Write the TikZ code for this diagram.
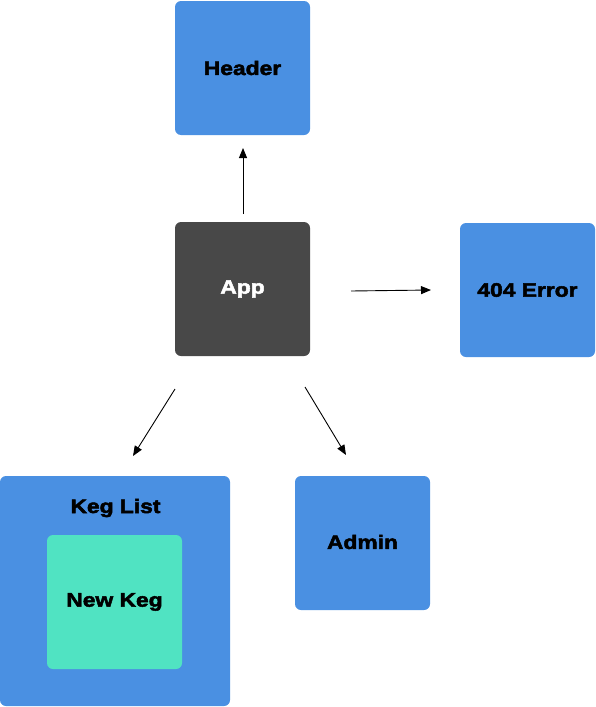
\documentclass[tikz,border=0pt]{standalone}
\usepackage{fontspec}
\setmainfont{Liberation Sans}[BoldFeatures={FakeStretch=1.17,FakeBold=2.5}]
\usetikzlibrary{arrows.meta}
\definecolor{cblue}{HTML}{4A90E2}
\definecolor{cdark}{HTML}{484848}
\definecolor{cgreen}{HTML}{50E3C2}
\begin{document}
\begin{tikzpicture}[x=1pt,y=-1pt,
  box/.style={fill=cblue,rounded corners=6pt,draw=none},
  lbl/.style={font=\fontsize{19.5}{22}\selectfont\bfseries,inner sep=0pt},
  arr/.style={line width=0.9pt,-{Triangle[length=10pt,width=8pt]}}]
\useasboundingbox (0,0) rectangle (595,707);
% boxes
\fill[box] (175,1) rectangle (310,135);
\fill[box,fill=cdark] (175,222) rectangle (310,356);
\fill[box] (460,223) rectangle (595,357);
\fill[box] (0,476) rectangle (230,706);
\fill[box,fill=cgreen] (47,535) rectangle (182,669);
\fill[box] (295,476) rectangle (430,610);
% labels
\node[lbl] (header) at (242.5,68) {Header};
\node[lbl,text=white] (app) at (242.5,289) {App};
\node[lbl] (err) at (527.5,290) {404 Error};
\node[lbl] (keglist) at (115.5,508) {Keg List};
\node[lbl] (newkeg) at (114.5,602) {New Keg};
\node[lbl] (admin) at (362.5,542) {Admin};
% arrow ends
\coordinate (u1) at (243,214); \coordinate (u2) at (243,148);
\coordinate (r1) at (351,291); \coordinate (r2) at (431,290);
\coordinate (l1) at (175,389); \coordinate (l2) at (133,456);
\coordinate (d1) at (305,387); \coordinate (d2) at (346,455);
\draw[arr] (u1) -- (u2);
\draw[arr] (r1) -- (r2);
\draw[arr] (l1) -- (l2);
\draw[arr] (d1) -- (d2);
\end{tikzpicture}
\end{document}
